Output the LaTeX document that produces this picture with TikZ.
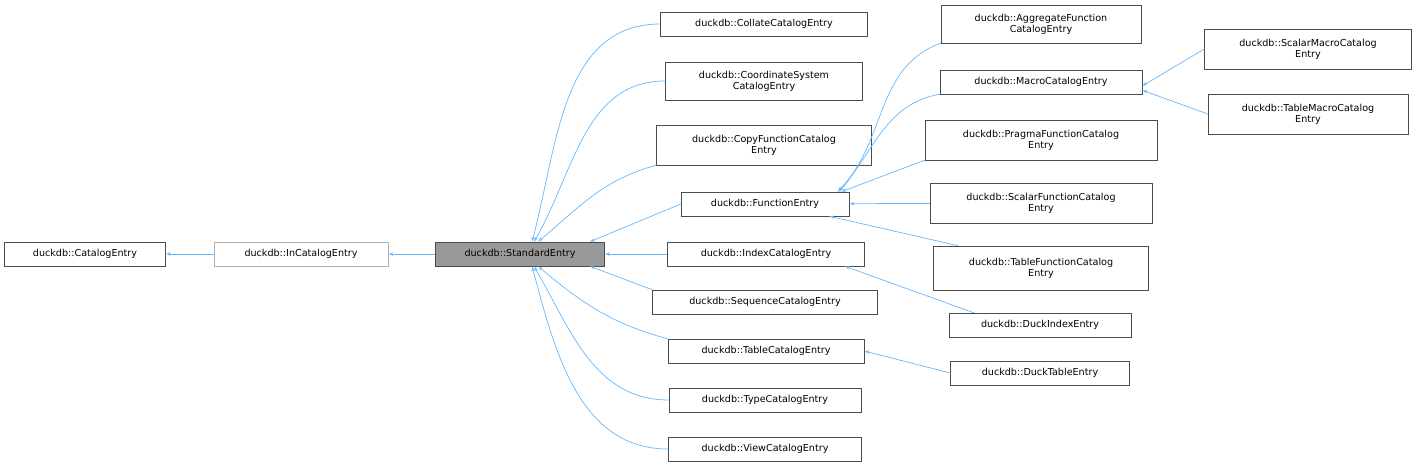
\documentclass[tikz,border=0pt]{standalone}
\usepackage{fontspec}
\setmainfont{DejaVu Sans}
\usetikzlibrary{arrows}
\definecolor{edgeblue}{HTML}{63B8FF}
\tikzstyle{box} = [draw=black!70, fill=white, rectangle, align=center,
    font=\fontsize{9.6}{11}\selectfont, inner sep=2pt, minimum height=24]
\tikzstyle{edge} = [<-, edgeblue, line width=0.7pt]

\begin{document}
\begin{tikzpicture}[x=1pt, y=-1pt, >=latex']
    \useasboundingbox (0,0) rectangle (1417,469);
    % base classes
    \node [box, minimum width=161] (catalog) at (85,254) {duckdb::CatalogEntry};
    \node [box, draw=black!30, minimum width=174] (incatalog) at (301,254) {duckdb::InCatalogEntry};
    \node [box, fill=black!40, minimum width=169] (standard) at (520,254) {duckdb::StandardEntry};
    % direct children
    \node [box, minimum width=207] (collate) at (764,24) {duckdb::CollateCatalogEntry};
    \node [box, minimum width=197, minimum height=38] (coordinate) at (764,81) {duckdb::CoordinateSystem\\CatalogEntry};
    \node [box, minimum width=215, minimum height=40] (copyfn) at (764,145) {duckdb::CopyFunctionCatalog\\Entry};
    \node [box, minimum width=168] (function) at (765,204) {duckdb::FunctionEntry};
    \node [box, minimum width=197] (index) at (766,254) {duckdb::IndexCatalogEntry};
    \node [box, minimum width=225] (sequence) at (765,302) {duckdb::SequenceCatalogEntry};
    \node [box, minimum width=196] (table) at (766,351) {duckdb::TableCatalogEntry};
    \node [box, minimum width=192] (type) at (765,400) {duckdb::TypeCatalogEntry};
    \node [box, minimum width=193] (view) at (765,449) {duckdb::ViewCatalogEntry};
    % function entries
    \node [box, minimum width=200, minimum height=38] (aggregate) at (1041,24) {duckdb::AggregateFunction\\CatalogEntry};
    \node [box, minimum width=202] (macro) at (1041,82) {duckdb::MacroCatalogEntry};
    \node [box, minimum width=232, minimum height=40] (pragma) at (1041,140) {duckdb::PragmaFunctionCatalog\\Entry};
    \node [box, minimum width=222, minimum height=40] (scalarfn) at (1041,203) {duckdb::ScalarFunctionCatalog\\Entry};
    \node [box, minimum width=215, minimum height=44] (tablefn) at (1041,268) {duckdb::TableFunctionCatalog\\Entry};
    \node [box, minimum width=182] (duckindex) at (1040,325) {duckdb::DuckIndexEntry};
    \node [box, minimum width=179] (ducktable) at (1040,373) {duckdb::DuckTableEntry};
    \node [box, minimum width=207, minimum height=40] (scalarmacro) at (1308,49) {duckdb::ScalarMacroCatalog\\Entry};
    \node [box, minimum width=200, minimum height=40] (tablemacro) at (1308,114) {duckdb::TableMacroCatalog\\Entry};
    % inheritance edges
    \draw [edge] (catalog) -- (incatalog);
    \draw [edge] (incatalog) -- (standard);
    \draw [edge] ([xshift=12]standard.north) to[out=75,in=180] (collate.west);
    \draw [edge] ([xshift=14]standard.north) to[out=60,in=180] (coordinate.west);
    \draw [edge] ([xshift=18]standard.north) to[out=40,in=195] (copyfn.south west);
    \draw [edge] ([xshift=-15]standard.north east) -- (function.west);
    \draw [edge] (standard) -- (index);
    \draw [edge] ([xshift=-15]standard.south east) -- (sequence.north west);
    \draw [edge] ([xshift=18]standard.south) to[out=-40,in=165] (table.north west);
    \draw [edge] ([xshift=14]standard.south) to[out=-60,in=180] (type.west);
    \draw [edge] ([xshift=12]standard.south) to[out=-75,in=180] (view.west);
    \draw [edge] ([xshift=-12]function.north east) to[out=45,in=200] (aggregate.south west);
    \draw [edge] ([xshift=-10]function.north east) to[out=50,in=190] (macro.south west);
    \draw [edge] ([xshift=-8]function.north east) -- (pragma.south west);
    \draw [edge] (function) -- (scalarfn);
    \draw [edge] ([xshift=-20]function.south east) -- ([xshift=25]tablefn.north west);
    \draw [edge] ([xshift=-20]index.south east) to[out=-20,in=160] ([xshift=25]duckindex.north west);
    \draw [edge] (table.east) -- (ducktable.west);
    \draw [edge] ([yshift=-4]macro.east) -- (scalarmacro.west);
    \draw [edge] ([yshift=4]macro.south east) -- (tablemacro.west);
\end{tikzpicture}
\end{document}
